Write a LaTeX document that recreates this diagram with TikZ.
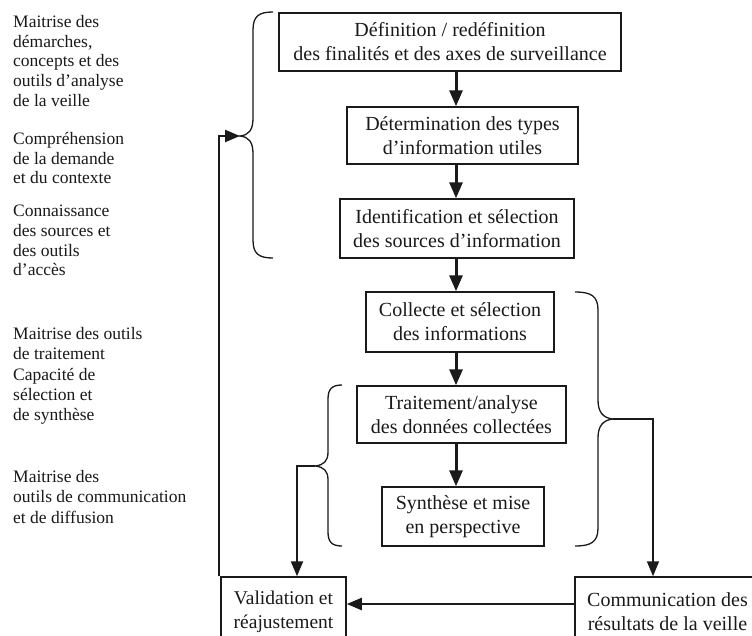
\documentclass[tikz,border=0pt]{standalone}
\usepackage{fontspec}
\setmainfont{Liberation Serif}
\usetikzlibrary{arrows.meta}
\definecolor{ink}{HTML}{1A1A1A}
\begin{document}
\begin{tikzpicture}[x=1pt,y=-1pt,
  box/.style={draw=ink, line width=1.5pt, fill=white, align=center, inner sep=0pt,
    text=ink, font=\fontsize{20}{24}\selectfont},
  side/.style={align=left, anchor=north west, inner sep=0pt, text=ink,
    font=\fontsize{17.5}{19.7}\selectfont},
  sidewide/.style={side, font=\fontsize{17.5}{20.4}\selectfont},
  flow/.style={draw=ink, line width=3pt, -{Triangle[width=13pt,length=16pt]}},
  link/.style={draw=ink, line width=2.2pt, -{Triangle[width=12pt,length=15pt]}},
  linkthin/.style={draw=ink, line width=1.6pt, -{Triangle[width=12pt,length=15pt]}},
  bracepath/.style={draw=ink, line width=1.3pt}]
\useasboundingbox (0,0) rectangle (752,635);
\clip (0,0) rectangle (752,635);
\fill[white] (0,0) rectangle (752,635);

% left texts
\node[side] (t1) at (13,15) {Maitrise des\\démarches,\\concepts et des\\outils d’analyse\\de la veille};
\node[side] (t2) at (13,132) {Compréhension\\de la demande\\et du contexte};
\node[side] (t3) at (13,205) {Connaissance\\des sources et\\des outils\\d’accès};
\node[sidewide] (t4) at (13,327) {Maitrise des outils\\de traitement\\Capacité de\\sélection et\\de synthèse};
\node[sidewide] (t5) at (13,470) {Maitrise des\\outils de communication\\et de diffusion};

% boxes
\node[box, minimum width=342pt, minimum height=58pt] (b1) at (450,42) {Définition / redéfinition\\des finalités et des axes de surveillance};
\node[box, minimum width=231pt, minimum height=57pt] (b2) at (462.5,135.5) {Détermination des types\\d’information utiles};
\node[box, minimum width=234pt, minimum height=59pt] (b3) at (457,228.5) {Identification et sélection\\des sources d’information};
\node[box, minimum width=188pt, minimum height=60pt] (b4) at (460,322) {Collecte et sélection\\des informations};
\node[box, minimum width=209pt, minimum height=57pt] (b5) at (461.5,414.5) {Traitement/analyse\\des données collectées};
\node[box, minimum width=162pt, minimum height=59pt] (b6) at (463,516.5) {Synthèse et mise\\en perspective};
\node[box, minimum width=125pt, minimum height=70pt, font=\fontsize{19.5}{24}\selectfont] (val) at (283.5,612) {Validation et\\réajustement};
\node[box, minimum width=185pt, minimum height=70pt] (comm) at (667.5,612) {Communication des\\résultats de la veille};

% braces
\draw[bracepath] (273,12) .. controls (259,12) and (253,16) .. (253,30) -- (253,118)
  .. controls (253,130) and (249,135) .. (240,136)
  .. controls (249,137) and (253,142) .. (253,154) -- (253,240)
  .. controls (253,254) and (259,258) .. (273,258);
\coordinate (lbt) at (240,136);
\draw[bracepath] (575,292) .. controls (591,292) and (598,296) .. (598,310) -- (598,400)
  .. controls (598,412) and (603,418) .. (613,419)
  .. controls (603,420) and (598,426) .. (598,438) -- (598,528)
  .. controls (598,542) and (591,546) .. (575,546);
\coordinate (rbt) at (613,419);
\draw[bracepath] (342,385) .. controls (332,385) and (328,389) .. (328,399) -- (328,452)
  .. controls (328,461) and (324,465) .. (315,466)
  .. controls (324,467) and (328,471) .. (328,480) -- (328,532)
  .. controls (328,542) and (332,546) .. (342,546);
\coordinate (ibt) at (315,466);

% helper coordinates
\coordinate (ax) at (456,0);
\coordinate (cx) at (653,0);
\coordinate (vx) at (297,0);
\coordinate (fx) at (219,0);
\coordinate (hy) at (0,604);

% flow arrows
\draw[flow] (b1.south -| ax) -- (b2.north -| ax);
\draw[flow] (b2.south -| ax) -- (b3.north -| ax);
\draw[flow] (b3.south -| ax) -- (b4.north -| ax);
\draw[flow] (b4.south -| ax) -- (b5.north -| ax);
\draw[flow] (b5.south -| ax) -- (b6.north -| ax);

% other connectors
\draw[linkthin] (rbt) -| (comm.north -| cx);
\draw[link] (ibt) -| (val.north -| vx);
\draw[link] (comm.west |- hy) -- (val.east |- hy);
\draw[link] (val.north west -| fx) |- (lbt);
\end{tikzpicture}
\end{document}
